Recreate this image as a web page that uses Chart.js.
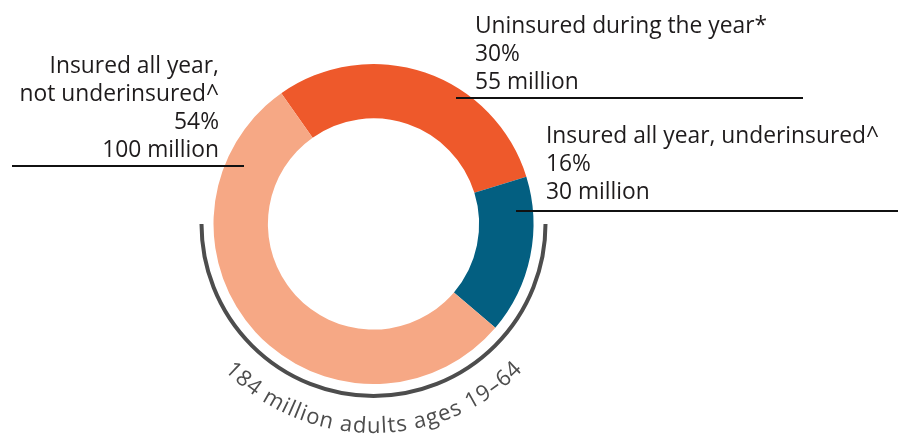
<!DOCTYPE html>
<html>
<head>
<meta charset="utf-8">
<script src="https://cdn.jsdelivr.net/npm/chart.js@4"></script>
<style>
  html, body { margin: 0; padding: 0; background: #ffffff; }
  #wrap { width: 898px; height: 439px; position: relative; }
</style>
</head>
<body>
<div id="wrap"><canvas id="c" width="898" height="439"></canvas></div>
<script>
// ---- Data ----
const categories = ['Uninsured during the year*', 'Insured all year, underinsured^', 'Insured all year, not underinsured^'];
const percents = [30, 16, 54];
const millions = [55, 30, 100];
const totalLabel = '184 million adults ages 19\u201364';

// ---- Styles ----
const colors = ['#EE592B', '#035F81', '#F6A885'];
const FONT = '"Open Sans", "Noto Sans", sans-serif';
const TEXT_COLOR = '#1E1B1C';

// label layout: text lines, anchor, alignment, leader line
const labelLayout = [
  { lines: [categories[0], percents[0] + '%', millions[0] + ' million'], x: 475, y0: 33, align: 'left', line: [456, 98, 803] },
  { lines: [categories[1], percents[1] + '%', millions[1] + ' million'], x: 546, y0: 143, align: 'left', line: [516, 211, 898] },
  { lines: ['Insured all year,', 'not underinsured^', percents[2] + '%', millions[2] + ' million'], x: 219, y0: 73, align: 'right', line: [12, 166, 244] }
];

const annotPlugin = {
  id: 'annot',
  afterDraw(chart) {
    const ctx = chart.ctx;
    const meta = chart.getDatasetMeta(0);
    const arc = meta.data[0];
    const cx = arc.x, cy = arc.y, R = arc.outerRadius;
    ctx.save();
    // labels
    ctx.fillStyle = TEXT_COLOR;
    ctx.font = '22.8px ' + FONT;
    ctx.textBaseline = 'alphabetic';
    labelLayout.forEach(l => {
      ctx.textAlign = l.align;
      l.lines.forEach((t, i) => ctx.fillText(t, l.x, l.y0 + i * 28));
      ctx.strokeStyle = '#111111';
      ctx.lineWidth = 2;
      ctx.beginPath();
      ctx.moveTo(l.line[0], l.line[1]);
      ctx.lineTo(l.line[2], l.line[1]);
      ctx.stroke();
    });
    // bracket arc
    ctx.strokeStyle = '#4D4D4D';
    ctx.lineWidth = 4;
    ctx.beginPath();
    ctx.arc(cx, cy, R + 12, 0, Math.PI);
    ctx.stroke();
    // curved text
    ctx.fillStyle = '#4D4D4D';
    ctx.font = '22px ' + FONT;
    ctx.textAlign = 'center';
    const r = R + 49;
    const chars = Array.from(totalLabel);
    const spacing = 1.1;
    const widths = chars.map(ch => ctx.measureText(ch).width + spacing);
    const W = widths.reduce((a, b) => a + b, 0);
    let phi0 = Math.PI / 2 + W / (2 * r);
    let off = 0;
    chars.forEach((ch, i) => {
      const phi = phi0 - (off + widths[i] / 2) / r;
      ctx.save();
      ctx.translate(cx + r * Math.cos(phi), cy + r * Math.sin(phi));
      ctx.rotate(phi - Math.PI / 2);
      ctx.fillText(ch, 0, 0);
      ctx.restore();
      off += widths[i];
    });
    ctx.restore();
  }
};

new Chart(document.getElementById('c'), {
  type: 'doughnut',
  data: {
    labels: categories,
    datasets: [{
      data: percents,
      backgroundColor: colors,
      borderWidth: 0,
      hoverOffset: 0
    }]
  },
  options: {
    responsive: false,
    animation: false,
    rotation: -35.2,
    cutout: '66%',
    layout: { padding: { left: 213.5, right: 364.5, top: 64, bottom: 55 } },
    plugins: { legend: { display: false }, tooltip: { enabled: false } }
  },
  plugins: [annotPlugin]
});
</script>
</body>
</html>
